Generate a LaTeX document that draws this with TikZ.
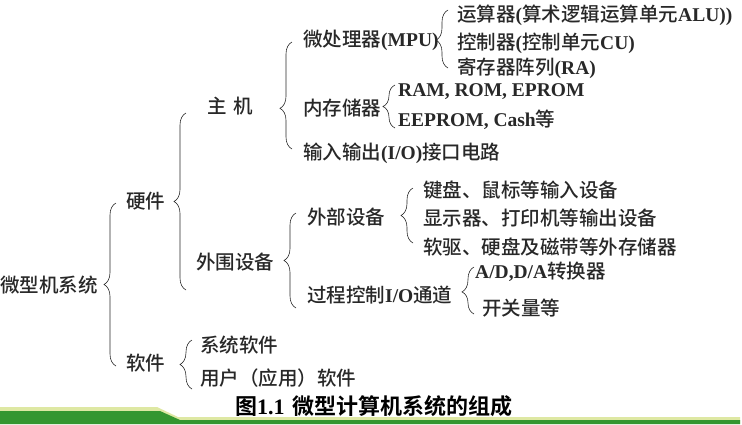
\documentclass[tikz,border=0pt]{standalone}
\usepackage{fontspec}
\setmainfont{Liberation Serif}
\newfontfamily\cjfont{Noto Sans CJK SC}[UprightFont=* Medium, BoldFont=* Bold]
\newcommand{\zh}[1]{{\cjfont\mdseries #1}}
\usetikzlibrary{decorations.pathreplacing}
\definecolor{bargreen}{RGB}{52,150,48}
\definecolor{barlight}{RGB}{222,232,163}
\definecolor{inkgray}{RGB}{40,40,40}

\begin{document}
\begin{tikzpicture}[x=1pt,y=-1pt,
  item/.style={anchor=west, inner sep=0pt, text=inkgray, font=\fontsize{19.5}{22}\selectfont\bfseries},
  brc/.style={decorate, decoration={brace, amplitude=12pt, aspect=#1}, draw=inkgray, line width=0.6pt},
  brc/.default=0.5]
\useasboundingbox (0,0) rectangle (742,424);

% Root and first level
\node[item] (sys) at (0,285) {\zh{微型机系统}};
\node[item] (hw) at (126,201) {\zh{硬件}};
\node[item] (sw) at (126,363) {\zh{软件}};
\draw[brc] (116,366) -- (116,203);

% Hardware
\node[item] (host) at (207,106) {\zh{主}\hspace{7pt}\zh{机}};
\node[item] (periph) at (196,262) {\zh{外围设备}};
\draw[brc] (186,290) -- (186,113);

% Host
\node[item] (mpu) at (303,40) {\zh{微处理器}(MPU)};
\node[item] (mem) at (303,108) {\zh{内存储器}};
\node[item] (io) at (303,153) {\zh{输入输出}(I/O)\zh{接口电路}};
\draw[brc=0.38] (292,149) -- (292,42);

% MPU
\node[item] (alu) at (457,15) {\zh{运算器}(\zh{算术逻辑运算单元}ALU))};
\node[item] (cu) at (457,43) {\zh{控制器}(\zh{控制单元}CU)};
\node[item] (ra) at (457,68) {\zh{寄存器阵列}(RA)};
\draw[brc=0.48] (448,68) -- (448,10);

% Memory
\node[item] (ram) at (398,92) {RAM, ROM, EPROM};
\node[item] (eep) at (398,120) {EEPROM, Cash\zh{等}};
\draw[brc] (395,128) -- (395,85);

% Peripherals
\node[item] (ext) at (307,217) {\zh{外部设备}};
\node[item] (pio) at (307,295) {\zh{过程控制}I/O\zh{通道}};
\draw[brc] (296,308) -- (296,213);

\node[item] (kbd) at (423,190) {\zh{键盘、鼠标等输入设备}};
\node[item] (disp) at (423,218) {\zh{显示器、打印机等输出设备}};
\node[item] (disk) at (423,247) {\zh{软驱、硬盘及磁带等外存储器}};
\draw[brc] (413,243) -- (413,188);

\node[item] (adc) at (475,272) {A/D,D/A\zh{转换器}};
\node[item] (swq) at (482,308) {\zh{开关量等}};
\draw[brc=0.47] (474,314) -- (474,267);

% Software
\node[item] (syssw) at (200,345) {\zh{系统软件}};
\node[item] (appsw) at (200,378) {\zh{用户（应用）软件}};
\draw[brc] (192,389) -- (192,340);

% Caption
\node[anchor=west, inner sep=0pt, font=\fontsize{22}{24}\selectfont\bfseries] (cap) at (235,406)
  {{\cjfont 图}1.1\hspace{8pt}{\cjfont 微型计算机系统的组成}};

% Bottom bar
\fill[barlight] (0,407) -- (157,407) -- (178,417) -- (740,417) -- (740,424) -- (0,424) -- cycle;
\fill[bargreen] (0,411) -- (160,411) -- (180,420) -- (740,420) -- (740,424) -- (0,424) -- cycle;

\end{tikzpicture}
\end{document}
